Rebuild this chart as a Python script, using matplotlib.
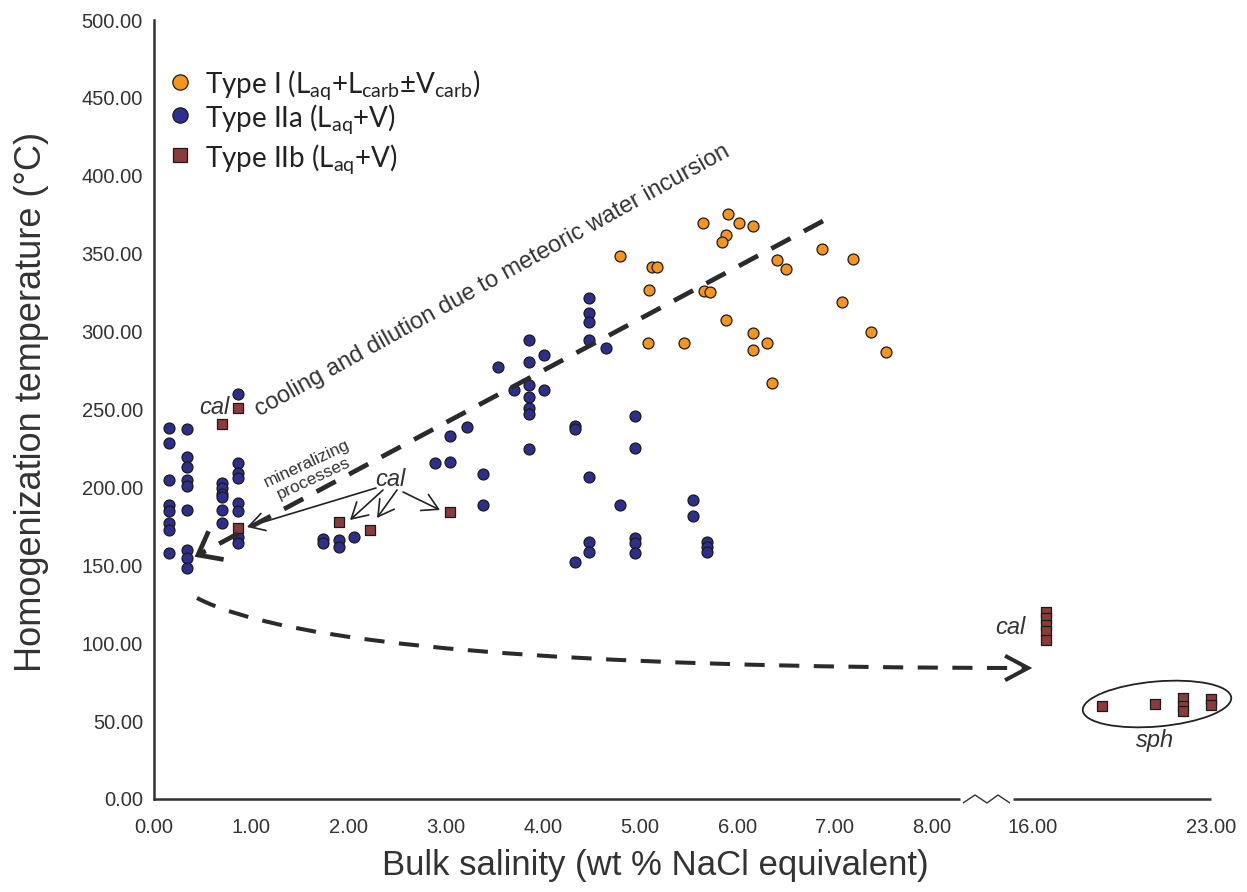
import numpy as np
import matplotlib
matplotlib.use("Agg")
import matplotlib.pyplot as plt
from matplotlib.lines import Line2D
from matplotlib.patches import Ellipse, PathPatch, FancyArrowPatch
from matplotlib.path import Path

# ---------------- data ----------------
type1_x = [4.79, 5.12, 5.17, 5.09, 5.08, 5.45, 5.65, 5.91, 6.02, 6.16, 5.88, 5.84, 5.66,
           5.72, 5.88, 6.16, 6.31, 6.16, 6.36, 6.41, 6.50, 6.87, 7.19, 7.08, 7.38, 7.53]
type1_y = [348.5, 341.5, 341.5, 326.7, 293, 293, 369.7, 375.5, 369.7, 367.8, 362, 357.5, 326,
           325.4, 307.4, 299, 293, 288, 267, 346, 340, 353, 346.6, 319, 299.7, 287]

type2a_x = [0.15] * 8 + [0.34] * 9 + [0.70] * 6 + [0.86] * 8 + [1.74, 1.74, 1.90, 1.90, 2.06] + \
           [2.89, 3.05, 3.05, 3.22, 3.38, 3.38, 3.54, 3.70] + [3.86] * 7 + [4.01, 4.01] + \
           [4.33] * 3 + [4.48] * 7 + [4.65, 4.79] + [4.95] * 5 + [5.55, 5.55] + [5.69] * 3
type2a_y = [238, 228.5, 205, 188.7, 185, 177, 172.7, 158,
            237.5, 219.5, 213, 205, 201, 185.5, 160, 155, 148,
            203, 199.6, 196, 194, 185.5, 177,
            260, 215.6, 209, 206, 190, 185, 168, 164,
            167, 164, 166, 162, 168,
            215.5, 216, 233, 239, 208.6, 189, 277, 262.5,
            294.6, 280.5, 265.7, 258, 251, 247, 224.6,
            285, 262.5,
            239.4, 237.5, 152,
            321.6, 312, 306, 294.6, 206.7, 165, 158.5,
            289.5, 189,
            245.8, 225, 167.5, 164, 158,
            192, 181.6,
            165, 161.7, 158.5]

type2b_x = [0.70, 0.86, 0.86, 1.90, 2.22, 3.05, 16.5, 16.5, 16.5, 16.5, 16.5,
            18.7, 20.8, 21.9, 21.9, 21.9, 23.0, 23.0]
type2b_y = [241, 251, 174, 178, 172.5, 184, 120, 116, 112, 108, 102,
            60, 61, 65, 60, 56.5, 64.5, 60.5]

x_ticks = [0, 1, 2, 3, 4, 5, 6, 7, 8, 16, 23]
y_ticks = list(range(0, 501, 50))

legend_labels = ["Type I (L$_{\\mathregular{aq}}$+L$_{\\mathregular{carb}}$\u00b1V$_{\\mathregular{carb}}$)",
                 "Type IIa (L$_{\\mathregular{aq}}$+V)",
                 "Type IIb (L$_{\\mathregular{aq}}$+V)"]

# ---------------- style ----------------
W, H, DPI = 1247, 892, 100
C_ORANGE = "#F7941D"
C_BLUE = "#2E2E8C"
C_SQ = "#8A3B3B"
C_EDGE = "#1a1a1a"
C_TXT = "#333333"
C_AX = "#333333"

plt.rcParams["font.family"] = ["Liberation Sans", "DejaVu Sans"]
plt.rcParams["mathtext.fontset"] = "custom"
plt.rcParams["mathtext.rm"] = "Lato"
plt.rcParams["mathtext.it"] = "Lato"
plt.rcParams["mathtext.bf"] = "Lato:bold"


def fwd(x):
    x = np.asarray(x, dtype=float)
    return np.where(x <= 8, x, np.where(x < 16, 8 + (x - 8) * 0.1304, 9.0432 + (x - 16) * 0.2616))


def inv(u):
    u = np.asarray(u, dtype=float)
    return np.where(u <= 8, u, np.where(u < 9.0432, 8 + (u - 8) / 0.1304, 16 + (u - 9.0432) / 0.2616))


def I(px, py):
    """pixel (top-left origin) -> inches for fig.dpi_scale_trans"""
    return (px / DPI, (H - py) / DPI)


fig = plt.figure(figsize=(W / DPI, H / DPI), dpi=DPI)
fig.patch.set_facecolor("white")
ax = fig.add_axes([154 / W, (H - 799) / H, (1211 - 154) / W, (799 - 20) / H])
ax.set_xscale("function", functions=(fwd, inv))
ax.set_xlim(0, 23)
ax.set_ylim(0, 500)

for s in ["top", "right", "bottom"]:
    ax.spines[s].set_visible(False)
ax.spines["left"].set_color(C_AX)
ax.spines["left"].set_linewidth(1.8)

ax.set_xticks(x_ticks)
ax.set_xticklabels([f"{v:.2f}" for v in x_ticks])
ax.set_yticks(y_ticks)
ax.set_yticklabels([f"{v:.2f}" for v in y_ticks])
ax.tick_params(axis="both", length=0, labelsize=14.5, labelcolor=C_TXT)
ax.tick_params(axis="x", pad=13.5)
ax.tick_params(axis="y", pad=8)
ax.xaxis.set_minor_locator(matplotlib.ticker.NullLocator())

# scatter
ax.scatter(type2a_x, type2a_y, s=62, marker="o", facecolor=C_BLUE, edgecolor=C_EDGE,
           linewidth=0.9, zorder=3, clip_on=False)
ax.scatter(type1_x, type1_y, s=62, marker="o", facecolor=C_ORANGE, edgecolor=C_EDGE,
           linewidth=0.9, zorder=3, clip_on=False)
ax.scatter(type2b_x, type2b_y, s=52, marker="s", facecolor=C_SQ, edgecolor=C_EDGE,
           linewidth=0.9, zorder=4, clip_on=False)

T = fig.dpi_scale_trans

# broken bottom axis
for xs, ys, lw in [([153, 960], [799, 799], 1.8),
                   ([963, 975, 987, 998, 1010], [803, 795, 803, 795, 803], 1.0),
                   ([1013, 1211], [799, 799], 1.8)]:
    pts = [I(a, b) for a, b in zip(xs, ys)]
    fig.add_artist(Line2D([p[0] for p in pts], [p[1] for p in pts], transform=T,
                          color=C_AX, lw=lw, solid_capstyle="butt"))

# axis titles
fig.text(655 / W, 1 - 865 / H, "Bulk salinity (wt % NaCl equivalent)", ha="center", va="center",
         fontsize=25, color=C_TXT)
fig.text(32 / W, 1 - 402 / H, "Homogenization temperature (\u00b0C)", ha="center", va="center",
         rotation=90, fontsize=26, color=C_TXT)

# legend (manual)
leg_y = [82, 115, 155]
leg_style = [dict(marker="o", mfc=C_ORANGE, ms=11),
             dict(marker="o", mfc=C_BLUE, ms=11),
             dict(marker="s", mfc=C_SQ, ms=9.5)]
for yy, st, lab in zip(leg_y, leg_style, legend_labels):
    p = I(180, yy)
    fig.add_artist(Line2D([p[0]], [p[1]], transform=T, linestyle="none", mec=C_EDGE, mew=0.9, **st))
    q = I(205, yy + 11)
    fig.text(q[0], q[1], lab, transform=T, ha="left", va="baseline", fontsize=20,
             family=["Lato", "DejaVu Sans"], color="#222222")


def arrow_head(tip, frm, length, half_deg, lw, color):
    tx, ty = tip
    fx, fy = frm
    d = np.array([fx - tx, fy - ty], dtype=float)
    d /= np.hypot(*d)
    pts = []
    for sgn in (1, -1):
        a = np.deg2rad(half_deg) * sgn
        r = np.array([[np.cos(a), -np.sin(a)], [np.sin(a), np.cos(a)]]) @ d
        pts.append((tx + length * r[0], ty + length * r[1]))
    seq = [pts[0], (tx, ty), pts[1]]
    P = [I(a, b) for a, b in seq]
    fig.add_artist(Line2D([p[0] for p in P], [p[1] for p in P], transform=T, color=color,
                          lw=lw, solid_joinstyle="miter", solid_capstyle="butt"))


DARK = "#2b2b2b"
# main dashed arrow
tail, tip = (823, 221), (198, 555)
P = [I(*tail), I(*tip)]
fig.add_artist(Line2D([P[0][0], P[1][0]], [P[0][1], P[1][1]], transform=T, color=DARK, lw=3.4,
                      linestyle=(0, (4.6, 3.2)), dash_capstyle="butt"))
arrow_head(tip, tail, 26, 38, 3.4, DARK)

# curved dashed arrow
verts = [I(197, 598), I(330, 668), I(1026, 668)]
path = Path(verts, [Path.MOVETO, Path.CURVE3, Path.CURVE3])
fig.add_artist(PathPatch(path, transform=T, fill=False, edgecolor=DARK, lw=2.9,
                         linestyle=(0, (5.0, 3.6)), capstyle="butt"))
arrow_head((1028, 668), (990, 668), 26, 28, 2.9, DARK)

# thin arrows from "cal"
for (sx, sy), (ex, ey) in [((376, 488), (247, 527)), ((383, 490), (350, 520)),
                           ((397, 490), (377, 518)), ((403, 492), (440, 510))]:
    fig.add_artist(FancyArrowPatch(I(sx, sy), I(ex, ey), transform=T,
                                   arrowstyle="->,head_length=0.7,head_width=0.4",
                                   mutation_scale=16, lw=1.2, color="#222222",
                                   shrinkA=0, shrinkB=0))

# text annotations
def ptext(px, py, s, **kw):
    q = I(px, py)
    return fig.text(q[0], q[1], s, transform=T, **kw)

ptext(214, 407, "cal", ha="center", va="center", fontsize=17, style="italic", color=C_TXT)
ptext(390, 480, "cal", ha="center", va="center", fontsize=17, style="italic", color=C_TXT)
ptext(1010, 628, "cal", ha="center", va="center", fontsize=17, style="italic", color=C_TXT)
ptext(1155, 740, "sph", ha="center", va="center", fontsize=17, style="italic", color=C_TXT)
ptext(260, 417, "cooling and dilution due to meteoric water incursion", ha="left", va="baseline",
      rotation=29, rotation_mode="anchor", fontsize=17, color=C_TXT)
ptext(310, 471, "mineralizing\nprocesses", ha="center", va="center", multialignment="center",
      rotation=25, rotation_mode="anchor", fontsize=12.5, color=C_TXT, linespacing=1.05)

# ellipse around sph
fig.add_artist(Ellipse(I(1157, 704), 149 / DPI, 45 / DPI, angle=5, transform=T, fill=False,
                       edgecolor="#222222", lw=1.3))

fig.savefig("out.png", dpi=DPI, facecolor="white")
